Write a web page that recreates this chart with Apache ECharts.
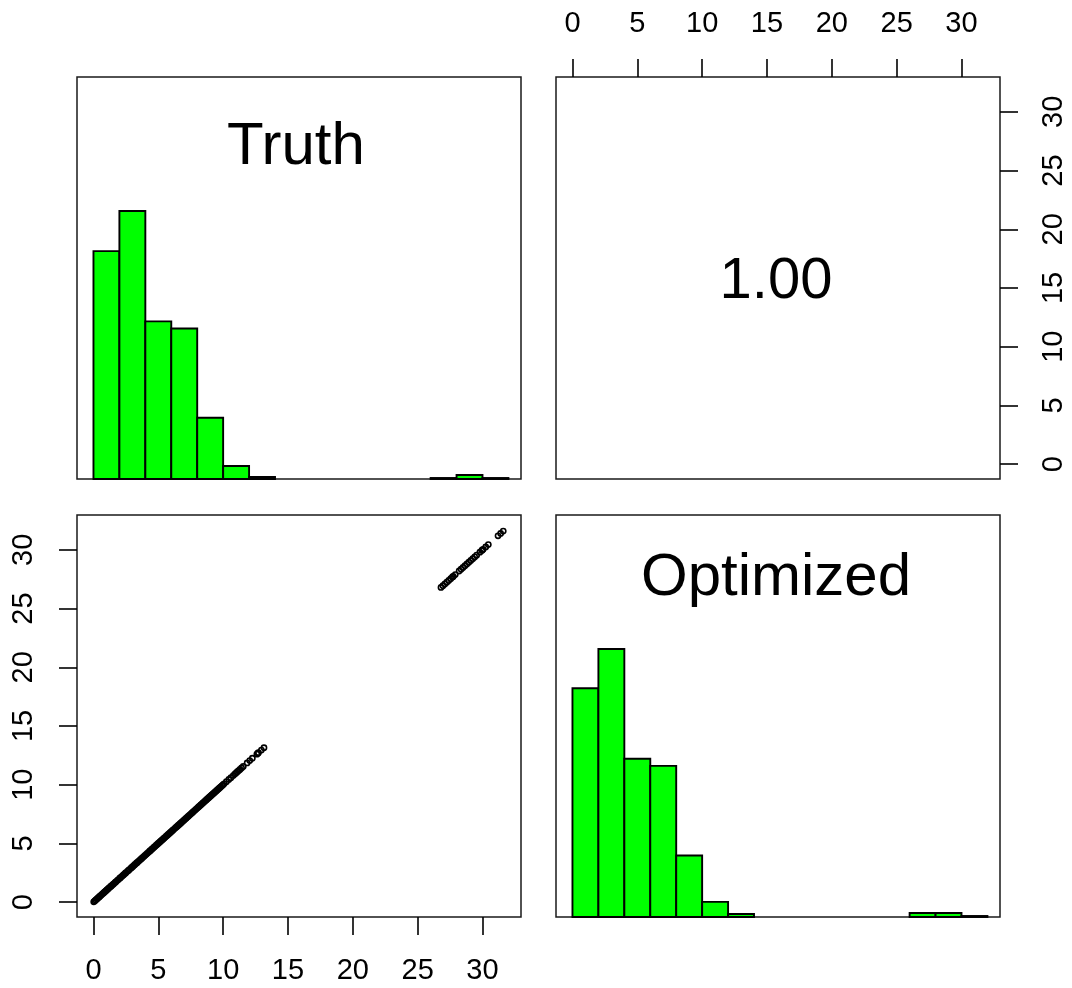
<!DOCTYPE html>
<html>
<head>
<meta charset="utf-8">
<script src="https://cdn.jsdelivr.net/npm/echarts@6/dist/echarts.min.js"></script>
<style>
html,body{margin:0;padding:0;background:#fff;}
#chart{width:1072px;height:988px;}
</style>
</head>
<body>
<div id="chart"></div>
<script>
// ---- data ----
const variableNames = ['Truth', 'Optimized'];
const correlationText = '1.00';
const tickValues = [0, 5, 10, 15, 20, 25, 30];
const breaks = [0, 2, 4, 6, 8, 10, 12, 14, 16, 18, 20, 22, 24, 26, 28, 30, 32];
const truthCounts = [227, 267, 157, 150, 61, 13, 2, 0, 0, 0, 0, 0, 0, 1, 4, 1];
const optimizedCounts = [227, 266, 157, 150, 61, 15, 3, 0, 0, 0, 0, 0, 0, 4, 4, 1];
const truthValues = [0.02,0.1,0.18,0.27,0.35,0.44,0.5,0.61,0.7,0.78,0.86,0.95,1.03,1.12,1.2,1.31,1.38,1.47,1.55,1.66,1.72,1.83,1.9,2.01,2.08,2.17,2.26,2.33,2.44,2.5,2.62,2.7,2.77,2.88,2.95,3.04,3.13,3.2,3.31,3.38,3.47,3.56,3.64,3.72,3.81,3.9,3.98,4.07,4.15,4.24,4.33,4.4,4.5,4.58,4.67,4.75,4.84,4.93,5.01,5.1,5.18,5.27,5.36,5.44,5.52,5.61,5.7,5.78,5.87,5.95,6.04,6.12,6.2,6.3,6.38,6.47,6.55,6.64,6.72,6.81,6.9,6.98,7.07,7.15,7.24,7.32,7.41,7.5,7.58,7.66,7.75,7.84,7.92,8.01,8.1,8.18,8.27,8.35,8.44,8.52,8.61,8.7,8.78,8.87,8.95,9.04,9.12,9.21,9.3,9.38,9.47,9.55,9.64,9.72,9.81,9.9,9.98,10.07,10.25,10.44,10.6,10.78,10.9,11.0,11.1,11.2,11.3,11.42,11.55,11.85,12.05,12.25,12.6,12.68,12.72,12.95,13.15,26.8,26.95,27.1,27.25,27.4,27.55,27.68,27.72,27.75,27.9,28.2,28.35,28.5,28.65,28.8,28.95,29.1,29.25,29.4,29.55,29.8,29.95,30.0,30.05,30.25,30.45,31.2,31.4,31.6];
const optimizedValues = [0.02,0.1,0.18,0.27,0.35,0.44,0.5,0.61,0.7,0.78,0.86,0.95,1.03,1.12,1.2,1.31,1.38,1.47,1.55,1.66,1.72,1.83,1.9,2.01,2.08,2.17,2.26,2.33,2.44,2.5,2.62,2.7,2.77,2.88,2.95,3.04,3.13,3.2,3.31,3.38,3.47,3.56,3.64,3.72,3.81,3.9,3.98,4.07,4.15,4.24,4.33,4.4,4.5,4.58,4.67,4.75,4.84,4.93,5.01,5.1,5.18,5.27,5.36,5.44,5.52,5.61,5.7,5.78,5.87,5.95,6.04,6.12,6.2,6.3,6.38,6.47,6.55,6.64,6.72,6.81,6.9,6.98,7.07,7.15,7.24,7.32,7.41,7.5,7.58,7.66,7.75,7.84,7.92,8.01,8.1,8.18,8.27,8.35,8.44,8.52,8.61,8.7,8.78,8.87,8.95,9.04,9.12,9.21,9.3,9.38,9.47,9.55,9.64,9.72,9.81,9.9,9.98,10.07,10.25,10.44,10.6,10.78,10.9,11.0,11.1,11.2,11.3,11.42,11.55,11.85,12.05,12.25,12.6,12.68,12.72,12.95,13.15,26.8,26.95,27.1,27.25,27.4,27.55,27.68,27.72,27.75,27.9,28.2,28.35,28.5,28.65,28.8,28.95,29.1,29.25,29.4,29.55,29.8,29.95,30.0,30.05,30.25,30.45,31.2,31.4,31.6];

// ---- layout / style ----
const AX_MIN = -1.27, AX_MAX = 32.97;
const FONT = '"Liberation Sans", Arial, sans-serif';
const LABEL_SIZE = 29;
const TICK_LEN = 18;
const LABEL_MARGIN = 39;
const grids = [
  {left: 77, top: 77, width: 444, height: 402},   // TL  Truth hist
  {left: 556, top: 77, width: 444, height: 402},  // TR  correlation
  {left: 77, top: 515, width: 444, height: 402},  // BL  scatter
  {left: 556, top: 515, width: 444, height: 402}  // BR  Optimized hist
].map(g => Object.assign({show: true, borderColor: '#1a1a1a', borderWidth: 1.5, backgroundColor: '#fff'}, g));

function valueAxis(gridIndex, opts) {
  const shown = !!opts.labels;
  const base = {
    type: 'value', gridIndex: gridIndex,
    min: opts.min, max: opts.max,
    splitLine: {show: false},
    axisLine: {show: false, onZero: false},
    axisTick: {show: shown, inside: false, length: TICK_LEN, lineStyle: {color: '#000', width: 1.6}, customValues: tickValues},
    axisLabel: {show: shown, color: '#000', fontSize: LABEL_SIZE, fontFamily: FONT, margin: LABEL_MARGIN, rotate: opts.rotate || 0, customValues: tickValues, formatter: v => String(v)}
  };
  if (opts.position) base.position = opts.position;
  return base;
}

const truthMax = Math.max(...truthCounts);
const optMax = Math.max(...optimizedCounts);

const xAxes = [
  valueAxis(0, {min: AX_MIN, max: AX_MAX}),
  valueAxis(1, {min: AX_MIN, max: AX_MAX, labels: true, position: 'top'}),
  valueAxis(2, {min: AX_MIN, max: AX_MAX, labels: true, position: 'bottom'}),
  valueAxis(3, {min: AX_MIN, max: AX_MAX})
];
const yAxes = [
  valueAxis(0, {min: 0, max: 1.5 * truthMax}),
  valueAxis(1, {min: AX_MIN, max: AX_MAX, labels: true, position: 'right', rotate: 90}),
  valueAxis(2, {min: AX_MIN, max: AX_MAX, labels: true, position: 'left', rotate: 90}),
  valueAxis(3, {min: 0, max: 1.5 * optMax})
];

function histData(counts) {
  const out = [];
  for (let i = 0; i < counts.length; i++) {
    if (counts[i] > 0) out.push([breaks[i], breaks[i + 1], counts[i]]);
  }
  return out;
}
function renderBar(params, api) {
  const p0 = api.coord([api.value(0), 0]);
  const p1 = api.coord([api.value(1), api.value(2)]);
  return {
    type: 'rect',
    shape: {x: p0[0], y: p1[1], width: p1[0] - p0[0], height: p0[1] - p1[1]},
    style: {fill: '#00ff00', stroke: '#000', lineWidth: 1.9}
  };
}

const scatterData = truthValues.map((v, i) => [v, optimizedValues[i]]);

const option = {
  animation: false,
  backgroundColor: '#fff',
  grid: grids,
  xAxis: xAxes,
  yAxis: yAxes,
  series: [
    {type: 'custom', xAxisIndex: 0, yAxisIndex: 0, renderItem: renderBar, encode: {x: [0, 1], y: 2}, data: histData(truthCounts)},
    {type: 'custom', xAxisIndex: 3, yAxisIndex: 3, renderItem: renderBar, encode: {x: [0, 1], y: 2}, data: histData(optimizedCounts)},
    {type: 'scatter', xAxisIndex: 2, yAxisIndex: 2, symbol: 'circle', symbolSize: 5.2,
     itemStyle: {color: 'rgba(0,0,0,0)', borderColor: '#000', borderWidth: 1.6, opacity: 1}, data: scatterData}
  ],
  graphic: [
    {type: 'text', style: {text: variableNames[0], font: '60px ' + FONT, fill: '#000', x: 296, y: 147, textAlign: 'center', textVerticalAlign: 'middle'}},
    {type: 'text', style: {text: variableNames[1], font: '60px ' + FONT, fill: '#000', x: 776, y: 578, textAlign: 'center', textVerticalAlign: 'middle'}},
    {type: 'text', style: {text: correlationText, font: '58px ' + FONT, fill: '#000', x: 776, y: 282, textAlign: 'center', textVerticalAlign: 'middle'}}
  ]
};

const chart = echarts.init(document.getElementById('chart'), null, {renderer: 'canvas'});
chart.setOption(option);
</script>
</body>
</html>
